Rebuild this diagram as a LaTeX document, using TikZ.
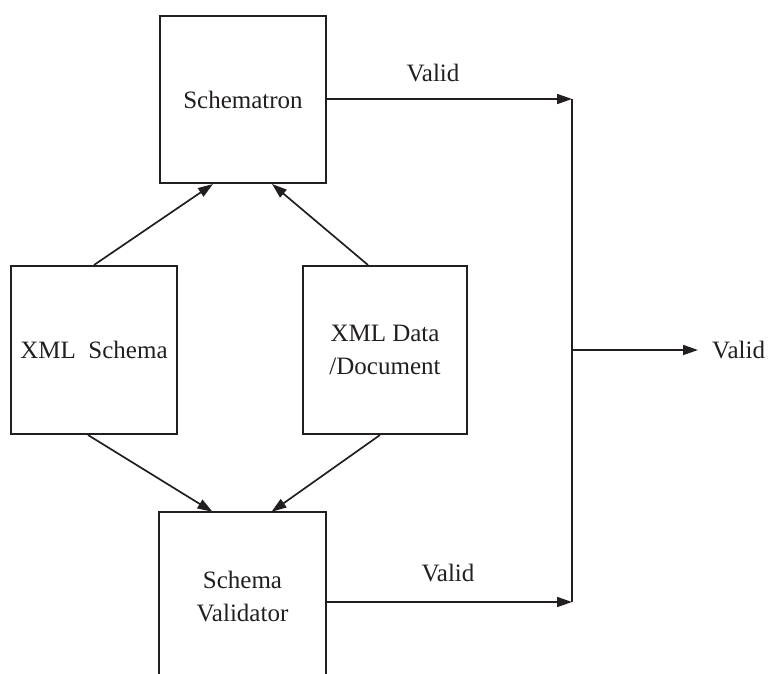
\documentclass[tikz,border=0pt]{standalone}
\usepackage{fontspec}
\setmainfont{Liberation Serif}
\usetikzlibrary{arrows.meta}
\definecolor{ink}{HTML}{231F20}
\begin{document}
\begin{tikzpicture}[x=1pt,y=-1pt,
  every node/.style={text=ink, font=\fontsize{25}{33}\selectfont},
  box/.style={draw=ink, line width=2pt, minimum width=166pt, minimum height=167pt, align=center, inner sep=0pt},
  openbox/.style={draw=none, minimum width=166pt, minimum height=170pt, align=center, inner sep=0pt},
  flow/.style={draw=ink, line width=1.7pt, -{Triangle[length=15pt,width=10pt]}},
  rail/.style={draw=ink, line width=2pt},
  lbl/.style={inner sep=0pt}]
  \useasboundingbox (0,0) rectangle (769,673);

  % processing blocks
  \node[box] (sch) at (243,99.5) {Schematron};
  \node[box, minimum height=168pt] (xs) at (94,350) {XML~~Schema};
  \node[box, minimum width=164pt, minimum height=168pt] (xd) at (385,350) {XML Data\\/Document};
  \node[openbox] (sv) at (242.5,597) {Schema\\Validator};
  \draw[rail] (sv.south west) -- (sv.north west) -- (sv.north east) -- (sv.south east);

  % junction rail
  \coordinate (jt) at (572,99);
  \coordinate (jm) at (572,350);
  \coordinate (jb) at (572,602);
  \draw[rail] (jt) -- (jb);

  % inputs into the validators
  \draw[flow] (xs.north) -- ([xshift=-30pt]sch.south);
  \draw[flow] ([xshift=-17pt]xd.north) -- ([xshift=29pt]sch.south);
  \draw[flow] ([xshift=-6pt]xs.south) -- ([xshift=-30pt]sv.north);
  \draw[flow] ([xshift=-5pt]xd.south) -- ([xshift=29pt]sv.north);

  % results
  \draw[flow] (sch.east |- jt) -- (jt);
  \draw[flow] (sv.east |- jb) -- (jb);
  \node[lbl] (v1) at (433,73) {Valid};
  \node[lbl] (v2) at (448,573) {Valid};
  \node[lbl, anchor=west] (out) at (712,350) {Valid};
  \draw[flow] (jm) -- (out) [shorten >=14pt];
\end{tikzpicture}
\end{document}
